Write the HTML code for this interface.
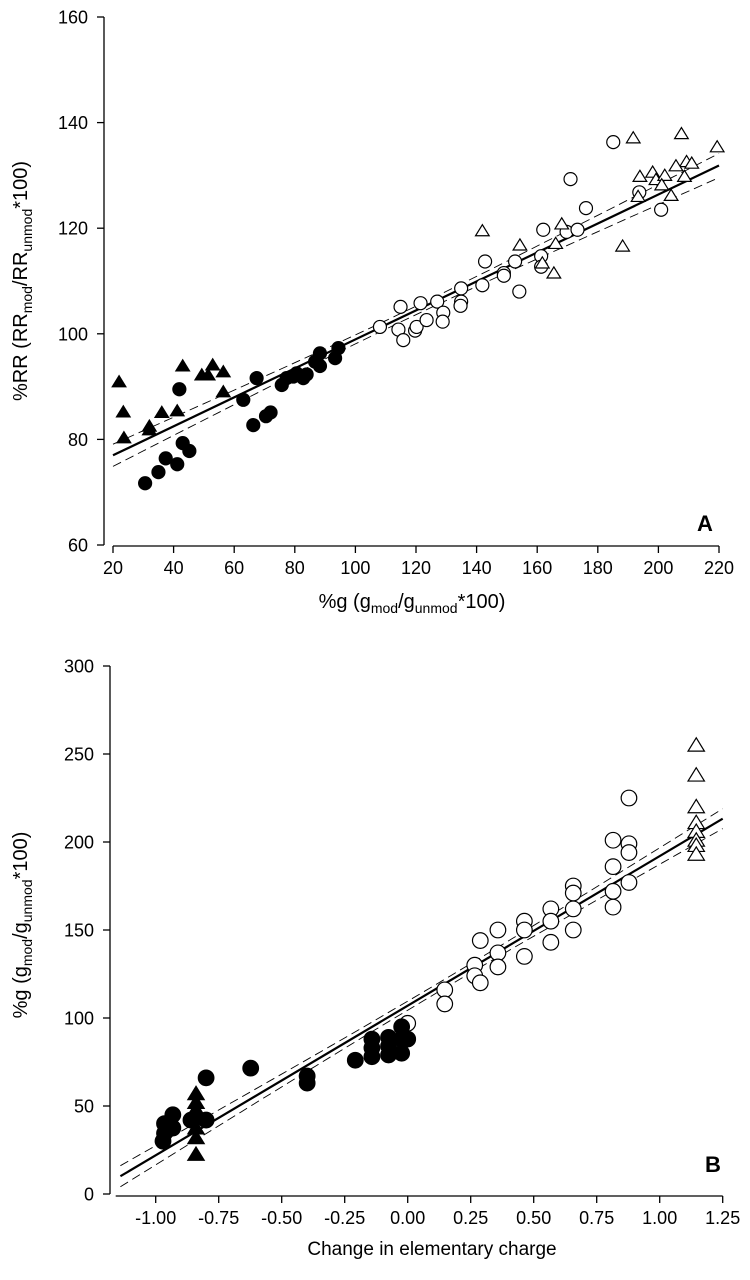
<!DOCTYPE html>
<html><head><meta charset="utf-8"><style>
html,body{margin:0;padding:0;background:#fff}
svg{display:block}
text{font-family:"Liberation Sans",Arial,sans-serif;fill:#000}
</style></head><body>
<svg id="chart" width="750" height="1280" viewBox="0 0 750 1280" xmlns="http://www.w3.org/2000/svg">
<g id="pA"></g>
<g id="pB"></g>
</svg>
<script>
// ---- Panel A data ----
const aTicksX = [20,40,60,80,100,120,140,160,180,200,220];
const aTicksY = [60,80,100,120,140,160];
const aFilledCircX = [30.6,35.0,37.4,41.2,43.0,45.2,41.9,63.0,67.4,66.3,70.5,72.0,75.7,77.3,79.5,80.6,82.8,83.9,86.7,88.3,88.3,93.3,94.4];
const aFilledCircY = [71.7,73.8,76.4,75.3,79.3,77.8,89.5,87.5,91.6,82.7,84.4,85.1,90.3,91.6,91.9,92.5,91.6,92.3,94.7,96.3,93.9,95.4,97.3];
const aFilledTriX = [22.0,23.4,23.6,32.0,32.0,36.1,41.2,43.0,49.3,51.4,52.9,56.4,56.4];
const aFilledTriY = [90.9,85.2,80.3,82.5,81.8,85.1,85.4,93.9,92.2,92.2,94.1,92.8,89.0];
const aOpenCircX = [108.1,114.9,114.2,115.8,119.7,120.2,121.5,123.5,127.0,129.0,128.8,134.9,134.9,134.7,141.9,142.8,149.0,149.0,152.7,154.1,161.3,161.3,162.0,169.7,173.3,176.1,171.0,185.1,193.7,200.9];
const aOpenCircY = [101.3,105.1,100.8,98.8,100.6,101.3,105.8,102.6,106.1,104.0,102.3,108.6,106.1,105.3,109.2,113.7,111.5,111.0,113.7,108.0,114.7,112.7,119.7,119.3,119.7,123.8,129.3,136.3,126.8,123.5];
const aOpenTriX = [141.9,154.3,161.7,165.5,166.1,168.1,188.2,191.7,207.6,219.4,209.3,211.0,193.9,198.1,199.2,202.1,201.1,205.8,208.6,204.2,193.3];
const aOpenTriY = [119.5,116.8,113.4,111.5,117.1,120.8,116.6,137.1,137.9,135.4,132.6,132.3,129.8,130.6,129.2,130.0,128.2,131.8,129.8,126.2,126.0];
const aFit = [71.5, 0.2744]; // intercept, slope

// ---- Panel B data ----
const bTicksX = [-1.00,-0.75,-0.50,-0.25,0.00,0.25,0.50,0.75,1.00,1.25];
const bTicksY = [0,50,100,150,200,250,300];
const bFilledCircX = [-0.971,-0.965,-0.965,-0.932,-0.932,-0.86,-0.80,-0.80,-0.623,-0.399,-0.399,-0.208,-0.142,-0.142,-0.142,-0.076,-0.076,-0.076,-0.024,-0.024,-0.024,0.0];
const bFilledCircY = [30,40,34.5,45,37.5,42,42,66,71.5,67,63,76,88,83,78,89,84,79,95,88,80,88];
const bFilledTriX = [-0.84,-0.84,-0.84,-0.84,-0.84,-0.84,-0.84];
const bFilledTriY = [57,52,48,43,37.5,32,22.5];
const bOpenCircX = [0.0,0.147,0.147,0.266,0.266,0.288,0.288,0.358,0.358,0.358,0.463,0.463,0.463,0.568,0.568,0.568,0.657,0.657,0.657,0.657,0.815,0.815,0.815,0.815,0.878,0.878,0.878,0.878];
const bOpenCircY = [97,116,108,130,124,120,144,150,137,129,155,150,135,162,155,143,175,171,162,150,201,186,172,163,225,199,194,177];
const bOpenTriX = [1.145,1.145,1.145,1.145,1.145,1.145,1.145,1.145];
const bOpenTriY = [255,238,220,211,206,201,198,193];
const bFit = [107, 85];

const NS='http://www.w3.org/2000/svg';
function mk(parent,tag,attrs){const e=document.createElementNS(NS,tag);for(const k in attrs)e.setAttribute(k,attrs[k]);parent.appendChild(e);return e;}

function panel(g,cfg){
  const sx=v=>cfg.x0+(v-cfg.vx0)*cfg.kx;
  const sy=v=>cfg.y0-(v-cfg.vy0)*cfg.ky;
  let ax=mk(g,'line',{x1:cfg.yAxisX,y1:sy(cfg.yTicks[cfg.yTicks.length-1]),x2:cfg.yAxisX,y2:sy(cfg.yTicks[0]),stroke:'#000','stroke-width':1.3});
  
  
  cfg.yTicks.forEach(t=>{
    const l=mk(g,'line',{x1:cfg.yAxisX-7,x2:cfg.yAxisX,y1:sy(t),y2:sy(t),stroke:'#000','stroke-width':1.3});
    
    
    const tx=mk(g,'text',{x:cfg.yAxisX-16,y:sy(t)+6.5,'text-anchor':'end','font-size':18});
    tx.textContent=cfg.yFmt(t);
    
    
  });
  ax=mk(g,'line',{x1:sx(cfg.xTicks[0])-cfg.xExt,x2:sx(cfg.xTicks[cfg.xTicks.length-1]),y1:cfg.xAxisY,y2:cfg.xAxisY,stroke:'#000','stroke-width':1.3});
  
  
  cfg.xTicks.forEach(t=>{
    const l=mk(g,'line',{x1:sx(t),x2:sx(t),y1:cfg.xAxisY,y2:cfg.xAxisY+7,stroke:'#000','stroke-width':1.3});
    
    
    const tx=mk(g,'text',{x:sx(t),y:cfg.xAxisY+28,'text-anchor':'middle','font-size':18});
    tx.textContent=cfg.xFmt(t);
    
    
  });
  const [b0,b1]=cfg.fit;const xa=cfg.fitRange[0],xb=cfg.fitRange[1];
  const f=mk(g,'line',{x1:sx(xa),y1:sy(b0+b1*xa),x2:sx(xb),y2:sy(b0+b1*xb),stroke:'#000','stroke-width':2.2});
  
  
  [1,-1].forEach(s=>{
    let d='';
    for(let i=0;i<=40;i++){const x=xa+(xb-xa)*i/40;const h=Math.sqrt(cfg.band[0]**2+(cfg.band[1]*(x-cfg.band[2]))**2);const y=b0+b1*x+s*h;d+=(i?'L':'M')+sx(x).toFixed(1)+' '+sy(y).toFixed(1);}
    const p=mk(g,'path',{d:d,fill:'none',stroke:'#000','stroke-width':0.9,'stroke-dasharray':'9 5'});
    
    
  });
  const r=cfg.r;
  function circ(X,Y,fill,name){X.forEach((v,i)=>{const c=mk(g,'circle',{cx:sx(v),cy:sy(Y[i]),r:r,fill:fill,stroke:'#000','stroke-width':1.2});});}
  function tri(X,Y,fill,name){X.forEach((v,i)=>{const cx=sx(v),cy=sy(Y[i]);const w=r*1.05,h=r*0.95;
    const p=mk(g,'polygon',{points:`${cx},${cy-h} ${cx-w},${cy+h*0.8} ${cx+w},${cy+h*0.8}`,fill:fill,stroke:'#000','stroke-width':1.2});});}
  circ(cfg.oc[0],cfg.oc[1],'#fff','open-circle-point');
  tri(cfg.ot[0],cfg.ot[1],'#fff','open-triangle-point');
  circ(cfg.fc[0],cfg.fc[1],'#000','filled-circle-point');
  tri(cfg.ft[0],cfg.ft[1],'#000','filled-triangle-point');
}

panel(document.getElementById('pA'),{x0:113,vx0:20,kx:3.03,y0:545,vy0:60,ky:5.28,yAxisX:104,xAxisY:546,xExt:0,
  xTicks:aTicksX,yTicks:aTicksY,xFmt:t=>String(t),yFmt:t=>String(t),fit:aFit,fitRange:[20,220],band:[0.8,0.0204,115],r:6.5,
  fc:[aFilledCircX,aFilledCircY],ft:[aFilledTriX,aFilledTriY],oc:[aOpenCircX,aOpenCircY],ot:[aOpenTriX,aOpenTriY]});
panel(document.getElementById('pB'),{x0:407.7,vx0:0,kx:252,y0:1194,vy0:0,ky:1.76,yAxisX:110,xAxisY:1196,xExt:40,
  xTicks:bTicksX,yTicks:bTicksY,xFmt:t=>t.toFixed(2),yFmt:t=>String(t),fit:bFit,fitRange:[-1.14,1.25],band:[2.5,4.4,0.1],r:7.8,
  fc:[bFilledCircX,bFilledCircY],ft:[bFilledTriX,bFilledTriY],oc:[bOpenCircX,bOpenCircY],ot:[bOpenTriX,bOpenTriY]});
</script>
<svg style="position:absolute;left:0;top:0" width="750" height="1280">
<text transform="translate(27,281) rotate(-90)" text-anchor="middle" font-size="20">%RR (RR<tspan font-size="14" dy="5">mod</tspan><tspan dy="-5">/RR</tspan><tspan font-size="14" dy="5">unmod</tspan><tspan dy="-5">*100)</tspan></text>
<text x="412" y="608" text-anchor="middle" font-size="20">%g (g<tspan font-size="14" dy="5">mod</tspan><tspan dy="-5">/g</tspan><tspan font-size="14" dy="5">unmod</tspan><tspan dy="-5">*100)</tspan></text>
<text x="697" y="531" font-size="22" font-weight="bold">A</text>
<text transform="translate(27,925) rotate(-90)" text-anchor="middle" font-size="20">%g (g<tspan font-size="14" dy="5">mod</tspan><tspan dy="-5">/g</tspan><tspan font-size="14" dy="5">unmod</tspan><tspan dy="-5">*100)</tspan></text>
<text x="432" y="1255" text-anchor="middle" font-size="19">Change in elementary charge</text>
<text x="705" y="1172" font-size="22" font-weight="bold">B</text>
</svg>
</body></html>
